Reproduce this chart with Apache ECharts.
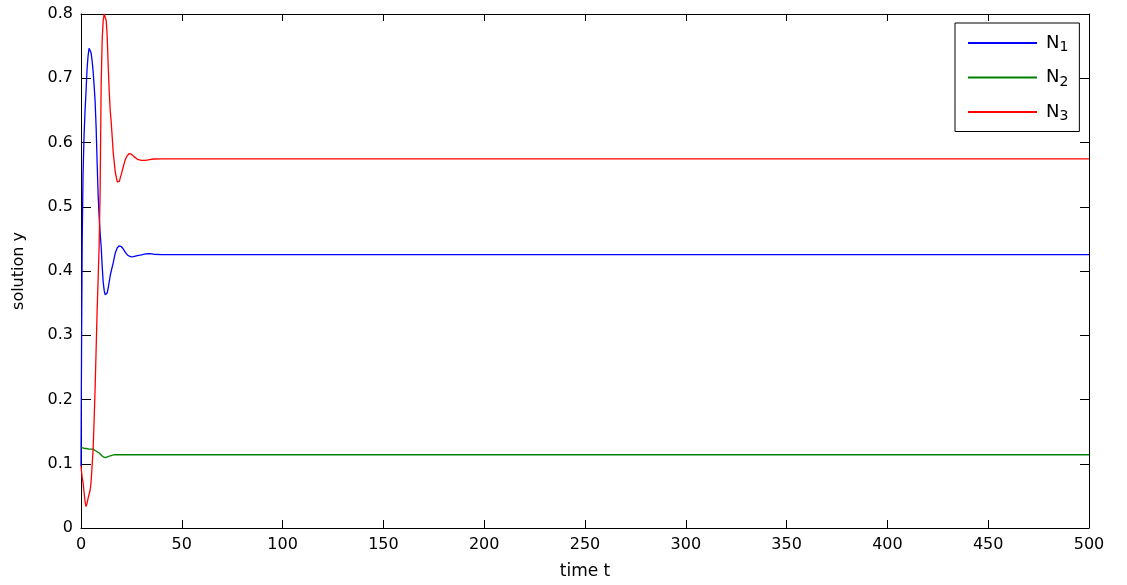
<!DOCTYPE html>
<html><head><meta charset="utf-8">
<script src="https://cdn.jsdelivr.net/npm/echarts@6/dist/echarts.min.js"></script>
<style>html,body{margin:0;padding:0;background:#fff}#c{width:1127px;height:585px}</style>
</head><body><div id="c"></div>
<script>
var seriesNames = ['N1', 'N2', 'N3'];
var timeT = [0,0.3,0.6,1,1.5,2,2.5,3,3.5,4,4.5,5,5.5,6,6.5,7,7.5,8,8.5,9,9.5,10,10.5,11,11.5,12,12.5,13,13.5,14,14.5,15,16,17,18,19,20,21,22,23,24,25,26,28,30,32,34,36,40,500];
var n1 = [0.0966,0.2975,0.4482,0.5487,0.609,0.649,0.6793,0.7144,0.7345,0.7466,0.7466,0.7396,0.7275,0.7114,0.6893,0.6642,0.624,0.5688,0.5185,0.4854,0.4583,0.4381,0.408,0.3829,0.3698,0.3628,0.3618,0.3658,0.3739,0.3829,0.393,0.4,0.413,0.4281,0.4362,0.4392,0.4381,0.4341,0.4291,0.425,0.423,0.422,0.4225,0.424,0.425,0.4266,0.4271,0.4261,0.4256,0.4256];
var n2 = [0.1247,0.1247,0.1247,0.1247,0.1237,0.1237,0.1237,0.1237,0.1237,0.1227,0.1227,0.1227,0.1227,0.1227,0.1217,0.1207,0.1197,0.1187,0.1177,0.1167,0.1147,0.1137,0.1117,0.1107,0.1097,0.1095,0.1097,0.1107,0.1117,0.1117,0.1127,0.1127,0.1137,0.114,0.114,0.114,0.114,0.114,0.114,0.114,0.114,0.114,0.114,0.114,0.114,0.114,0.114,0.114,0.114,0.114];
var n3 = [0.0966,0.0865,0.0785,0.0715,0.0564,0.0413,0.0333,0.0383,0.0463,0.0524,0.0584,0.0715,0.0966,0.1217,0.1669,0.2171,0.2774,0.3377,0.3879,0.4381,0.5286,0.6893,0.7597,0.7898,0.8,0.8,0.7898,0.7647,0.7195,0.6793,0.6492,0.6311,0.5838,0.5537,0.5386,0.5396,0.5507,0.5627,0.5738,0.5798,0.5828,0.5818,0.5788,0.5738,0.5723,0.5723,0.5733,0.5743,0.5744,0.5744];
var xTicks = {min: 0, max: 500, interval: 50};
var yTicks = {min: 0, max: 0.8, interval: 0.1};
var colors = ['#0000ff', '#008000', '#ff0000'];

function pairs(ys){ return timeT.map(function(t,i){ return [t, ys[i]]; }); }
var values = [n1, n2, n3];
var font = '"DejaVu Sans", Verdana, sans-serif';

var chart = echarts.init(document.getElementById('c'), null, {renderer: 'canvas'});
function axisBase(len){
  return {
    axisLine: {show: true, onZero: false, lineStyle: {color: '#000', width: 1}},
    axisTick: {show: true, inside: true, length: len, lineStyle: {color: '#000'}},
    splitLine: {show: false}
  };
}
chart.setOption({
  animation: false,
  backgroundColor: '#fff',
  grid: {left: 81, right: 38, top: 14, bottom: 55},
  xAxis: [
    Object.assign({type: 'value', position: 'bottom', min: xTicks.min, max: xTicks.max, interval: xTicks.interval,
      name: 'time t', nameLocation: 'middle', nameGap: 35,
      nameTextStyle: {color: '#000', fontSize: 17, fontFamily: font},
      axisLabel: {color: '#000', fontSize: 16, fontFamily: font, margin: 9}}, axisBase(8)),
    Object.assign({type: 'value', position: 'top', min: xTicks.min, max: xTicks.max, interval: xTicks.interval,
      axisLabel: {show: false}}, axisBase(7))
  ],
  yAxis: [
    Object.assign({type: 'value', position: 'left', min: yTicks.min, max: yTicks.max, interval: yTicks.interval,
      name: 'solution y', nameLocation: 'middle', nameGap: 54, nameRotate: 90,
      nameTextStyle: {color: '#000', fontSize: 16, fontFamily: font},
      axisLabel: {color: '#000', fontSize: 16, fontFamily: font, margin: 8,
        formatter: function(v){ return v === 0 ? '0' : v.toFixed(1); }}}, axisBase(10)),
    Object.assign({type: 'value', position: 'right', min: yTicks.min, max: yTicks.max, interval: yTicks.interval,
      axisLabel: {show: false}}, axisBase(9))
  ],
  legend: {
    orient: 'vertical', left: 955, top: 23,
    padding: [11, 11, 8, 13],
    itemGap: 14, itemWidth: 69, itemHeight: 2, icon: 'rect',
    borderColor: '#000', borderWidth: 1, backgroundColor: '#fff',
    data: seriesNames,
    formatter: function(name){ return '{n|N}{s|' + name.slice(1) + '}'; },
    textStyle: {
      color: '#000', fontFamily: font,
      rich: {
        n: {fontSize: 18, fontFamily: font, color: '#000', padding: [0, 0, 0, 4]},
        s: {fontSize: 14, fontFamily: font, color: '#000', padding: [9, 0, 0, 0]}
      }
    }
  },
  series: seriesNames.map(function(nm, i){
    return {
      name: nm, type: 'line', xAxisIndex: 0, yAxisIndex: 0,
      data: pairs(values[i]), symbol: 'none', smooth: false, clip: true,
      itemStyle: {color: colors[i]},
      lineStyle: {color: colors[i], width: 1.3}
    };
  })
});
</script></body></html>
